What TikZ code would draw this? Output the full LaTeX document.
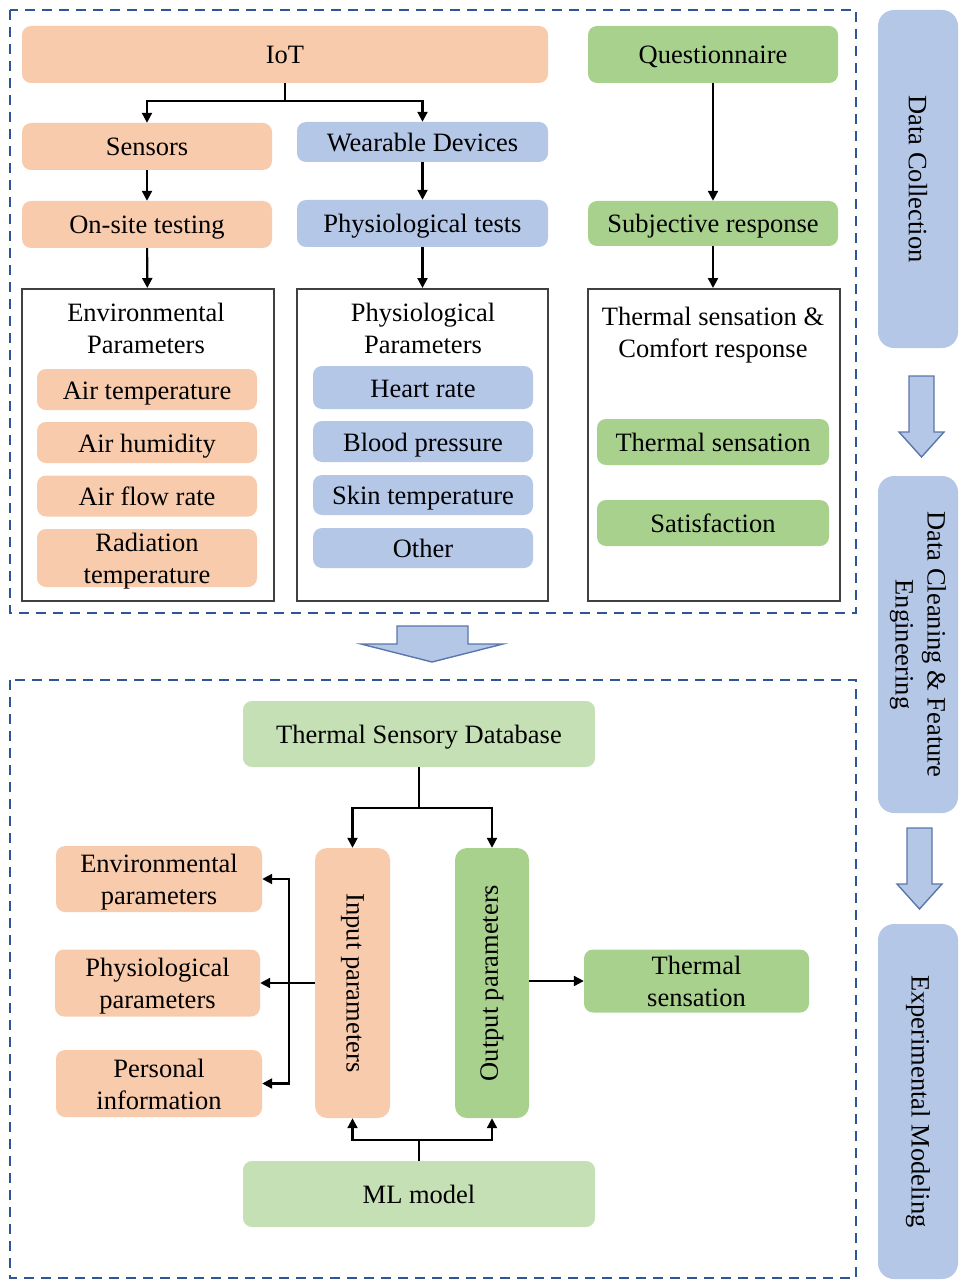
\documentclass[tikz,border=0pt]{standalone}
\usepackage{fontspec}
\setmainfont{Liberation Serif}
\usepackage{graphicx}
\usepackage{xcolor}
\usepackage{tikz}
\usetikzlibrary{arrows.meta}
\definecolor{boxorange}{HTML}{F8CBAD}
\definecolor{boxblue}{HTML}{B4C7E7}
\definecolor{boxgreen}{HTML}{A9D18E}
\definecolor{boxlight}{HTML}{C5E0B4}
\definecolor{framblue}{HTML}{2F5597}
\definecolor{grpgray}{HTML}{404040}
\newcommand{\figfont}{\fontsize{26.5}{32}\selectfont}
\newcommand{\lowstrut}{\rule[-6pt]{0pt}{31pt}}
\tikzset{
  boxbase/.style={rounded corners=9pt, inner sep=0pt, align=center},
  textbox/.style={boxbase, execute at begin node=\lowstrut},
  orangebox/.style={textbox, fill=boxorange},
  bluebox/.style={textbox, fill=boxblue},
  greenbox/.style={textbox, fill=boxgreen},
  lightbox/.style={textbox, fill=boxlight},
  groupbox/.style={draw=grpgray, line width=2pt, fill=white, inner sep=0pt},
  phasebar/.style={boxbase, fill=boxblue, rounded corners=16pt},
  conn/.style={line width=2.2pt, black, -{Triangle[length=10pt,width=10pt]}},
  plainconn/.style={line width=2.2pt, black},
  dashframe/.style={draw=framblue, line width=2pt, dash pattern=on 10pt off 7pt},
  blockarrow/.style={fill=boxblue, draw=framblue!80, line width=1.4pt, line join=miter},
}

\begin{document}
\begin{tikzpicture}[x=1pt, y=-1pt, font=\figfont]
\useasboundingbox (0,0) rectangle (960,1281);
% frames
\draw[dashframe] (10,10) rectangle (856,613);
\draw[dashframe] (10,680) rectangle (856,1278);

% data collection: IoT branch
\node[orangebox, minimum width=526, minimum height=57] (iot) at (285,54.5) {IoT};
\node[greenbox, minimum width=250, minimum height=57] (quest) at (713,54.5) {Questionnaire};
\node[orangebox, minimum width=250, minimum height=47] (sensors) at (147,146.5) {Sensors};
\node[bluebox, minimum width=251, minimum height=40] (wearable) at (422.5,142) {Wearable Devices};
\node[orangebox, minimum width=250, minimum height=47] (onsite) at (147,224.5) {On-site testing};
\node[bluebox, minimum width=251, minimum height=47] (phystest) at (422.5,223.5) {Physiological tests};
\node[greenbox, minimum width=250, minimum height=45] (subjresp) at (713,223.5) {Subjective response};

\node[groupbox, minimum width=252, minimum height=312] (envgrp) at (148,445) {};
\node[groupbox, minimum width=251, minimum height=312] (physgrp) at (422.5,445) {};
\node[groupbox, minimum width=252, minimum height=312] (thermgrp) at (714,445) {};
\node[align=center, inner sep=0pt] (envttl) at (146,328) {Environmental\\Parameters};
\node[align=center, inner sep=0pt] (physttl) at (423,328) {Physiological\\Parameters};
\node[align=center, inner sep=0pt] (thermttl) at (713,335) {Thermal sensation \&\\Comfort response};

\node[orangebox, minimum width=220, minimum height=41] (airtemp) at (147,389.5) {Air temperature};
\node[orangebox, minimum width=220, minimum height=41] (airhum) at (147,442.5) {Air humidity};
\node[orangebox, minimum width=220, minimum height=41] (airflow) at (147,496) {Air flow rate};
\node[orangebox, text depth=0pt, minimum width=220, minimum height=58] (radtemp) at (147,558) {Radiation\\temperature};
\node[bluebox, minimum width=220, minimum height=43] (heart) at (423,387.5) {Heart rate};
\node[bluebox, minimum width=220, minimum height=41] (blood) at (423,441.5) {Blood pressure};
\node[bluebox, minimum width=220, minimum height=40] (skin) at (423,495) {Skin temperature};
\node[bluebox, minimum width=220, minimum height=40] (other) at (423,548) {Other};
\node[greenbox, minimum width=232, minimum height=46] (tsens) at (713,442) {Thermal sensation};
\node[greenbox, minimum width=232, minimum height=46] (satis) at (713,523) {Satisfaction};

\coordinate (iotsplit) at (285,101);
\draw[plainconn] (iot) -- (iotsplit);
\draw[conn] (iotsplit) -| (sensors);
\draw[conn] (iotsplit) -| (wearable);
\draw[conn] (sensors) -- (onsite);
\draw[conn] (wearable) -- (phystest);
\draw[conn] (quest) -- (subjresp);
\draw[conn] (onsite) -- (envgrp);
\draw[conn] (phystest) -- (physgrp);
\draw[conn] (subjresp) -- (subjresp |- thermgrp.north);

% arrow between the two frames
\draw[blockarrow] (397,626) -- (468,626) -- (468,644) -- (503,644) -- (432,662)
  -- (361,644) -- (397,644) -- cycle;

% modeling
\node[lightbox, minimum width=352, minimum height=66] (tsdb) at (419,734) {Thermal Sensory Database};
\node[boxbase, fill=boxorange, rounded corners=12pt, minimum width=75, minimum height=270] (input) at (352.5,983) {\rotatebox{-90}{Input parameters}};
\node[boxbase, fill=boxgreen, rounded corners=12pt, minimum width=74, minimum height=270] (output) at (492,983) {\rotatebox{90}{Output parameters}};
\node[lightbox, minimum width=352, minimum height=66] (mlmodel) at (419,1194) {ML model};
\node[orangebox, minimum width=206, minimum height=66] (envpar) at (159,879) {\lowstrut Environmental\\parameters};
\node[orangebox, minimum width=205, minimum height=67] (physpar) at (157.5,983) {\lowstrut Physiological\\parameters};
\node[orangebox, minimum width=206, minimum height=67] (perinfo) at (159,1083.5) {\lowstrut Personal\\information};
\node[greenbox, minimum width=225, minimum height=62] (tsout) at (696.5,981) {\lowstrut Thermal\\sensation};

\coordinate (dbsplit) at (419,808);
\coordinate (mlsplit) at (419,1140);
\coordinate (inbus) at (289,983);
\draw[plainconn] (tsdb) -- (dbsplit);
\draw[conn] (dbsplit) -| (input);
\draw[conn] (dbsplit) -| (output);
\draw[plainconn] (mlmodel) -- (mlsplit);
\draw[conn] (mlsplit) -| (input);
\draw[conn] (mlsplit) -| (output);
\draw[plainconn] (input) -- (inbus);
\draw[conn] (inbus) -- (physpar);
\draw[conn] (inbus) |- (envpar);
\draw[conn] (inbus) |- (perinfo);
\draw[conn] (output.east |- tsout.west) -- (tsout);

% phases on the right
\node[phasebar, minimum width=80, minimum height=338] (datacol) at (918,179) {\rotatebox{-90}{Data Collection}};
\node[phasebar, minimum width=80, minimum height=337] (dataclean) at (918,644.5)
  {\rotatebox{-90}{\begin{tabular}{@{}c@{}}Data Cleaning \& Feature\\Engineering\end{tabular}}};
\node[phasebar, minimum width=80, minimum height=355] (expmod) at (918,1101.5) {\rotatebox{-90}{Experimental Modeling}};
\draw[blockarrow] (909,376) -- (934,376) -- (934,432) -- (944,432) -- (921.5,457)
  -- (899,432) -- (909,432) -- cycle;
\draw[blockarrow] (907,828) -- (932,828) -- (932,884) -- (942,884) -- (919.5,909)
  -- (897,884) -- (907,884) -- cycle;
\end{tikzpicture}
\end{document}
